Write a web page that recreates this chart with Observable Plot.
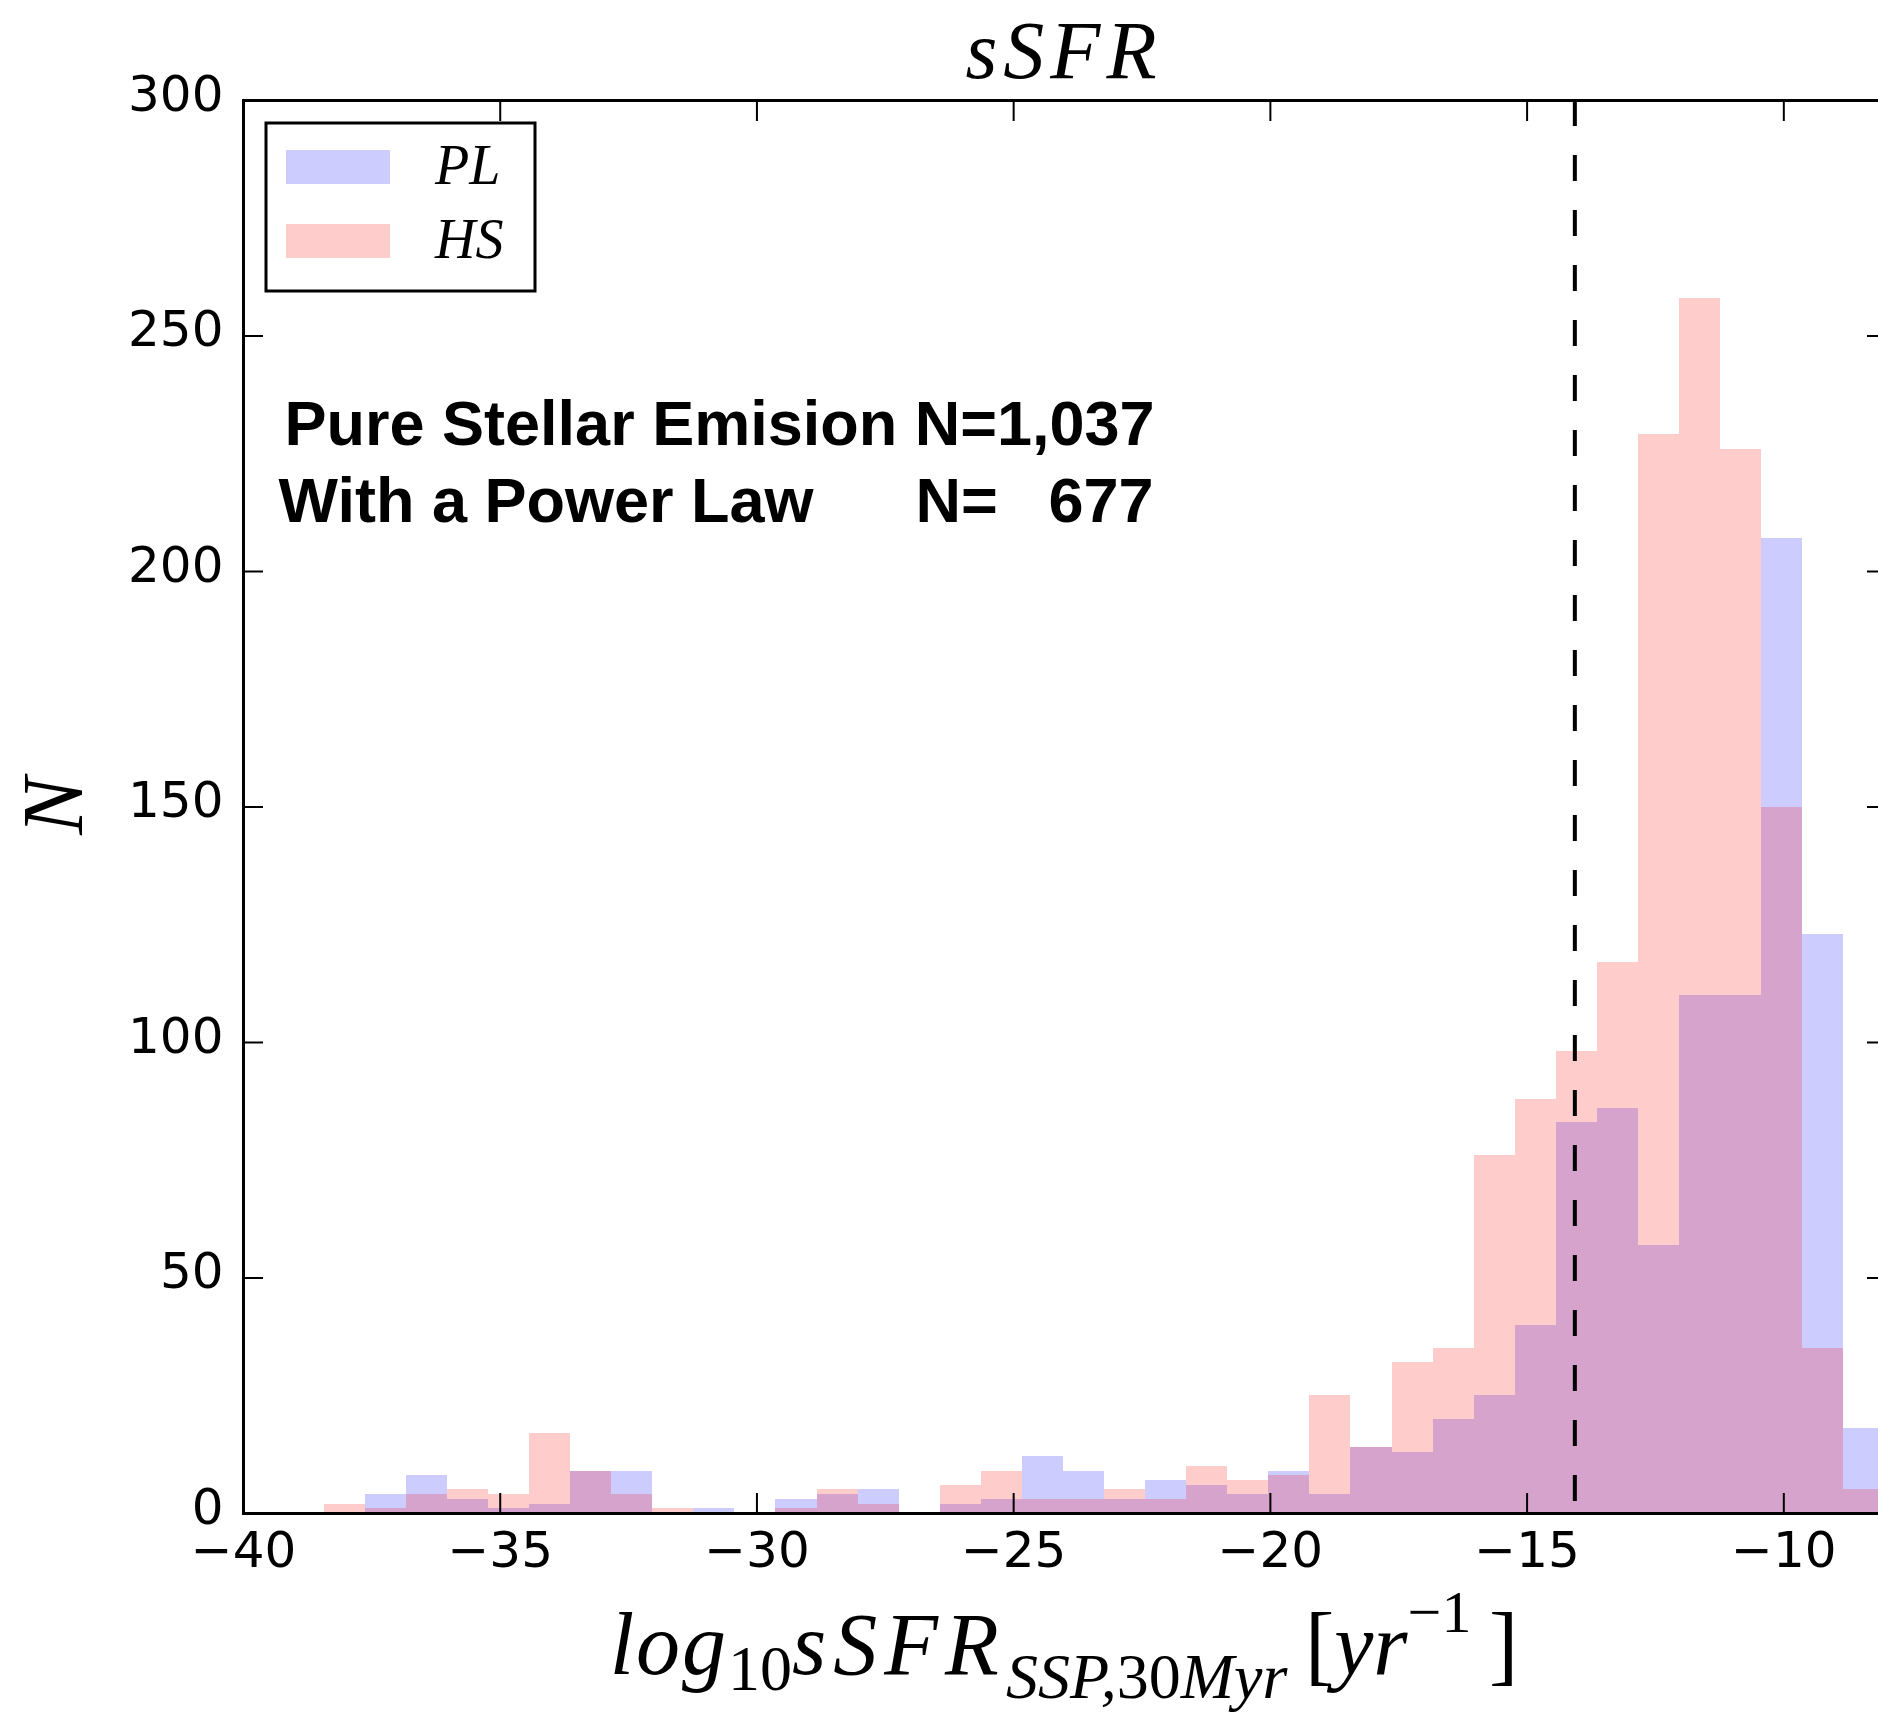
<!DOCTYPE html>
<html>
<head>
<meta charset="utf-8">
<script src="https://cdn.jsdelivr.net/npm/d3@7"></script>
<script src="https://cdn.jsdelivr.net/npm/@observablehq/plot@0.6"></script>
<style>
html, body { margin: 0; padding: 0; background: #fff; overflow: hidden; width: 1878px; height: 1717px; }
#chart { position: relative; width: 1878px; height: 1717px; overflow: hidden; }
</style>
</head>
<body>
<div id="chart"></div>
<script>
// ---- data ----
const binEdges = [-38.43, -37.63, -36.83, -36.03, -35.23, -34.43, -33.63, -32.83, -32.03, -31.23,
  -30.43, -29.63, -28.83, -28.03, -27.23, -26.43, -25.63, -24.83, -24.03, -23.23,
  -22.43, -21.63, -20.83, -20.03, -19.23, -18.43, -17.63, -16.83, -16.03, -15.23,
  -14.43, -13.63, -12.83, -12.03, -11.23, -10.43, -9.63, -8.83, -8.03];
const plCounts = [0, 4, 8, 3, 1, 2, 9, 9, 0, 1, 0, 3, 4, 5, 0, 2, 3, 12, 9, 3, 7, 6, 4, 9, 4,
  14, 13, 20, 25, 40, 83, 86, 57, 110, 110, 207, 123, 18];
const hsCounts = [2, 1, 4, 5, 4, 17, 9, 4, 1, 0, 0, 1, 5, 2, 0, 6, 9, 3, 3, 5, 3, 10, 7, 8, 25,
  14, 32, 35, 76, 88, 98, 117, 229, 258, 226, 150, 35, 5];
const seriesNames = ["PL", "HS"];
const seriesColors = ["#0000ff", "#ff0000"];
const xTicks = [-40, -35, -30, -25, -20, -15, -10];
const yTicks = [0, 50, 100, 150, 200, 250, 300];
const cutLine = [-14.07];
const noteLine1 = ["Pure Stellar Emision N=1,037"];
const noteLine2a = ["With a Power Law"];
const noteLine2b = ["N="];
const noteLine2c = ["677"];

// ---- table built from the arrays ----
const bins = plCounts.map((v, i) => ({x1: binEdges[i], x2: binEdges[i + 1], pl: v, hs: hsCounts[i]}));

const W = 1886, H = 1717;
const fmt = d => d < 0 ? "\u2212" + Math.abs(d) : String(d);
const blank = () => "";
const noteFont = "'Liberation Sans', Arial, Helvetica, sans-serif";
const noteStyle = {text: d => d, frameAnchor: "top-left", textAnchor: "start", lineAnchor: "top",
  fontSize: 63, fontWeight: "bold", fontFamily: noteFont, fill: "black"};

const svg = Plot.plot({
  width: W, height: H,
  marginLeft: 243, marginRight: 0, marginTop: 100, marginBottom: H - 1513,
  x: {domain: [-40, -8]},
  y: {domain: [0, 300]},
  style: {background: "white", maxWidth: "none", fontFamily: "'DejaVu Sans', sans-serif", fontSize: "50px", color: "black"},
  marks: [
    Plot.rectY(bins, {x1: "x1", x2: "x2", y: "pl", fill: seriesColors[0], fillOpacity: 0.2, shapeRendering: "crispEdges"}),
    Plot.rectY(bins, {x1: "x1", x2: "x2", y: "hs", fill: seriesColors[1], fillOpacity: 0.2, shapeRendering: "crispEdges"}),
    Plot.ruleX(cutLine, {stroke: "black", strokeWidth: 4, strokeDasharray: "26,29"}),
    Plot.text(noteLine1, {...noteStyle, dx: 41, dy: 300}),
    Plot.text(noteLine2a, {...noteStyle, dx: 35, dy: 377}),
    Plot.text(noteLine2b, {...noteStyle, dx: 672, dy: 377}),
    Plot.text(noteLine2c, {...noteStyle, dx: 805, dy: 377}),
    Plot.axisX({anchor: "bottom", ticks: xTicks, tickSize: -20, tickPadding: 38, tickFormat: fmt, label: null, strokeWidth: 2}),
    Plot.axisX({anchor: "top", ticks: xTicks, tickSize: -20, tickFormat: blank, label: null, strokeWidth: 2}),
    Plot.axisY({anchor: "left", ticks: yTicks, tickSize: -20, tickFormat: blank, label: null, strokeWidth: 2}),
    Plot.axisY({anchor: "left", ticks: yTicks, tickSize: 0, tickPadding: 20, dy: -6, tickFormat: fmt, label: null}),
    Plot.axisY({anchor: "right", ticks: yTicks, tickSize: -20, tickFormat: blank, label: null, strokeWidth: 2}),
    Plot.frame({stroke: "black", strokeWidth: 3})
  ]
});

// ---- title, axis labels and legend added to the same SVG ----
const s = d3.select(svg);
const serif = "'Liberation Serif', 'Times New Roman', serif";

s.append("text")
  .attr("x", 1064).attr("y", 78)
  .attr("text-anchor", "middle")
  .attr("font-family", serif).attr("font-style", "italic").attr("font-size", 82)
  .attr("letter-spacing", 6)
  .attr("fill", "black")
  .text("sSFR");

s.append("text")
  .attr("transform", "translate(82,806) rotate(-90)")
  .attr("text-anchor", "middle")
  .attr("font-family", serif).attr("font-style", "italic").attr("font-size", 86)
  .attr("fill", "black")
  .text("N");

const xl = s.append("text")
  .attr("x", 1064).attr("y", 1674)
  .attr("text-anchor", "middle")
  .attr("font-family", serif).attr("font-size", 88).attr("fill", "black");
xl.append("tspan").attr("font-style", "italic").attr("letter-spacing", 2).text("log");
xl.append("tspan").attr("font-size", 64).attr("dy", 16).text("10");
xl.append("tspan").attr("font-style", "italic").attr("dy", -16).attr("letter-spacing", 7).text("sSFR");
xl.append("tspan").attr("font-size", 64).attr("font-style", "italic").attr("dy", 24).text("SSP,");
xl.append("tspan").attr("font-size", 64).text("30");
xl.append("tspan").attr("font-size", 64).attr("font-style", "italic").text("Myr");
xl.append("tspan").attr("dy", -24).text("\u2009[");
xl.append("tspan").attr("font-style", "italic").text("yr");
xl.append("tspan").attr("font-size", 60).attr("dy", -42).text("\u22121");
xl.append("tspan").attr("dy", 42).text("\u2009]");

const leg = s.append("g");
leg.append("rect").attr("x", 266).attr("y", 123).attr("width", 269).attr("height", 168)
  .attr("fill", "white").attr("stroke", "black").attr("stroke-width", 3);
seriesNames.forEach((name, i) => {
  const yTop = 150 + i * 74;
  leg.append("rect").attr("x", 286).attr("y", yTop).attr("width", 104).attr("height", 34)
    .attr("fill", seriesColors[i]).attr("fill-opacity", 0.2);
  leg.append("text").attr("x", 435).attr("y", yTop + 34)
    .attr("text-anchor", "start")
    .attr("font-family", serif).attr("font-style", "italic").attr("font-size", 56)
    .attr("fill", "black").text(name);
});

document.getElementById("chart").appendChild(svg);
</script>
</body>
</html>
